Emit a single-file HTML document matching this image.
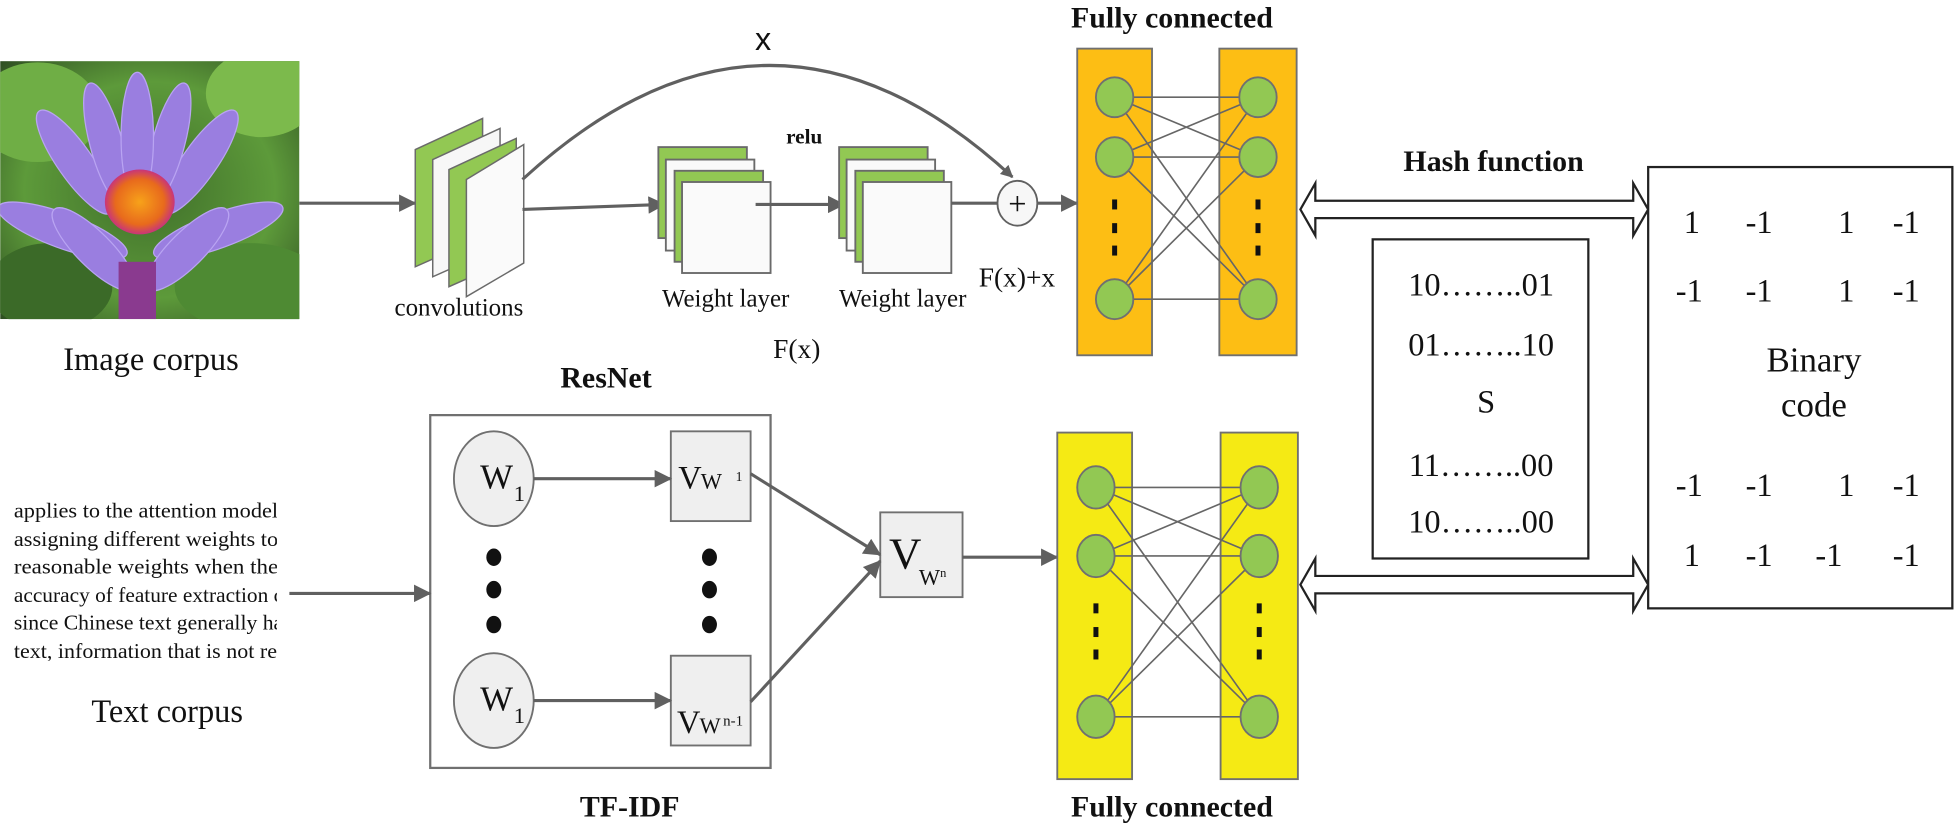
<!DOCTYPE html>
<html><head><meta charset="utf-8"><style>
html,body{margin:0;padding:0;background:#fff;}
svg{display:block;}
text{font-family:"Liberation Serif",serif;fill:#111;}
.b{font-weight:bold;}
</style></head><body>
<svg width="1955" height="829" viewBox="0 0 1568 665" xmlns="http://www.w3.org/2000/svg">
<defs>
<marker id="ah" markerWidth="10" markerHeight="10" refX="9" refY="5" orient="auto" markerUnits="userSpaceOnUse" viewBox="0 0 10 10">
<path d="M0,0 L10,5 L0,10 z" fill="#606060"/></marker>
<marker id="ahb" markerWidth="14" markerHeight="14" refX="13" refY="7" orient="auto" markerUnits="userSpaceOnUse" viewBox="0 0 14 14">
<path d="M0,0 L14,7 L0,14 z" fill="#606060"/></marker>
<radialGradient id="bg" cx="0.5" cy="0.5" r="0.7"><stop offset="0" stop-color="#3f6e2a"/><stop offset="0.6" stop-color="#5d9a3a"/><stop offset="1" stop-color="#2f4f22"/></radialGradient>
<radialGradient id="ctr" cx="0.5" cy="0.5" r="0.5"><stop offset="0" stop-color="#f7a21a"/><stop offset="0.7" stop-color="#e86a1c"/><stop offset="1" stop-color="#c8357a"/></radialGradient>
<clipPath id="imgc"><rect x="0" y="49" width="240" height="207"/></clipPath>
<clipPath id="txtc"><rect x="0" y="390" width="222" height="140"/></clipPath>
</defs>

<g clip-path="url(#imgc)">
<rect x="0" y="49" width="240" height="207" fill="url(#bg)"/>
<ellipse cx="30" cy="90" rx="50" ry="40" fill="#6fae45"/>
<ellipse cx="210" cy="75" rx="45" ry="35" fill="#7cba4c"/>
<ellipse cx="200" cy="230" rx="60" ry="35" fill="#4e8a33"/>
<ellipse cx="40" cy="230" rx="50" ry="35" fill="#3b6a28"/>
<g fill="#9a7ee0" stroke="#b9a4f2" stroke-width="1">
<ellipse cx="60" cy="130" rx="14" ry="50" transform="rotate(-35 60 130)"/>
<ellipse cx="160" cy="130" rx="14" ry="50" transform="rotate(35 160 130)"/>
<ellipse cx="85" cy="115" rx="13" ry="50" transform="rotate(-15 85 115)"/>
<ellipse cx="135" cy="115" rx="13" ry="50" transform="rotate(15 135 115)"/>
<ellipse cx="110" cy="110" rx="13" ry="52"/>
<ellipse cx="50" cy="185" rx="14" ry="55" transform="rotate(-70 50 185)"/>
<ellipse cx="175" cy="185" rx="14" ry="55" transform="rotate(70 175 185)"/>
<ellipse cx="75" cy="200" rx="14" ry="45" transform="rotate(-45 75 200)"/>
<ellipse cx="150" cy="200" rx="14" ry="45" transform="rotate(45 150 200)"/>
</g>
<ellipse cx="112" cy="162" rx="28" ry="26" fill="url(#ctr)"/>
<rect x="95" y="210" width="30" height="46" fill="#8a3a8f"/>
</g>
<text x="121" y="297" font-size="26" text-anchor="middle">Image corpus</text>

<line x1="240" y1="163" x2="333" y2="163" stroke="#606060" stroke-width="2.5" marker-end="url(#ahb)"/>

<g stroke="#6a6a6a" stroke-width="1.2">
<path d="M333,120 L387,95 L387,190 L333,214 z" fill="#92c853"/>
<path d="M347,128 L401,103 L401,198 L347,222 z" fill="#f7f7f7"/>
<path d="M360,136 L414,111 L414,206 L360,230 z" fill="#92c853"/>
<path d="M374,144 L420,116 L420,211 L374,238 z" fill="#fafafa"/>
</g>
<text x="368" y="253" font-size="20" text-anchor="middle">convolutions</text>

<path d="M419,144 Q617,-38 812,142" fill="none" stroke="#606060" stroke-width="2.5" marker-end="url(#ah)"/>
<text x="612" y="40" font-size="26" text-anchor="middle" style="font-family:'Liberation Sans',sans-serif">x</text>

<line x1="419" y1="168" x2="533" y2="164" stroke="#606060" stroke-width="2.5" marker-end="url(#ahb)"/>

<g stroke="#6a6a6a" stroke-width="1.5">
<rect x="528" y="118" width="71" height="73" fill="#92c853"/>
<rect x="534" y="128" width="71" height="73" fill="#fafafa"/>
<rect x="541" y="137" width="71" height="73" fill="#92c853"/>
<rect x="547" y="146" width="71" height="73" fill="#fafafa"/>
</g>
<text x="582" y="246" font-size="20" text-anchor="middle">Weight layer</text>
<text x="645" y="115" font-size="17" class="b" text-anchor="middle">relu</text>
<line x1="606" y1="164" x2="677" y2="164" stroke="#606060" stroke-width="2.5" marker-end="url(#ahb)"/>
<g stroke="#6a6a6a" stroke-width="1.5">
<rect x="673" y="118" width="71" height="73" fill="#92c853"/>
<rect x="679" y="128" width="71" height="73" fill="#fafafa"/>
<rect x="686" y="137" width="71" height="73" fill="#92c853"/>
<rect x="692" y="146" width="71" height="73" fill="#fafafa"/>
</g>
<text x="724" y="246" font-size="20" text-anchor="middle">Weight layer</text>
<line x1="763" y1="163" x2="800" y2="163" stroke="#606060" stroke-width="2.5"/>
<ellipse cx="816" cy="163" rx="16" ry="18" fill="#f7f7f7" stroke="#606060" stroke-width="1.5"/>
<text x="816" y="172" font-size="26" text-anchor="middle">+</text>
<line x1="832" y1="163" x2="864" y2="163" stroke="#606060" stroke-width="2.5" marker-end="url(#ahb)"/>
<text x="785" y="230" font-size="22">F(x)+x</text>
<text x="639" y="287" font-size="22" text-anchor="middle">F(x)</text>

<text x="940" y="22" font-size="24" class="b" text-anchor="middle">Fully connected</text>
<g stroke="#707070" stroke-width="1.5" fill="#fdbe14">
<rect x="864" y="39" width="60" height="246"/>
<rect x="978" y="39" width="62" height="246"/>
</g>
<g stroke="#666" stroke-width="1.3">
<line x1="894" y1="78" x2="1009" y2="78"/><line x1="894" y1="78" x2="1009" y2="126"/><line x1="894" y1="78" x2="1009" y2="240"/>
<line x1="894" y1="126" x2="1009" y2="78"/><line x1="894" y1="126" x2="1009" y2="126"/><line x1="894" y1="126" x2="1009" y2="240"/>
<line x1="894" y1="240" x2="1009" y2="78"/><line x1="894" y1="240" x2="1009" y2="126"/><line x1="894" y1="240" x2="1009" y2="240"/>
</g>
<g fill="#92c853" stroke="#707070" stroke-width="1.5">
<ellipse cx="894" cy="78" rx="15" ry="16"/><ellipse cx="894" cy="126" rx="15" ry="16"/><ellipse cx="894" cy="240" rx="15" ry="16"/>
<ellipse cx="1009" cy="78" rx="15" ry="16"/><ellipse cx="1009" cy="126" rx="15" ry="16"/><ellipse cx="1009" cy="240" rx="15" ry="16"/>
</g>
<g fill="#111">
<rect x="892" y="160" width="4" height="8"/><rect x="892" y="179" width="4" height="8"/><rect x="892" y="197" width="4" height="8"/>
<rect x="1007" y="160" width="4" height="8"/><rect x="1007" y="179" width="4" height="8"/><rect x="1007" y="197" width="4" height="8"/>
</g>

<text x="1198" y="137" font-size="24" class="b" text-anchor="middle">Hash function</text>
<path d="M1043,168 L1055,147 L1055,161 L1310,161 L1310,147 L1322,168 L1310,189 L1310,175 L1055,175 L1055,189 z" fill="#fff" stroke="#222" stroke-width="1.8"/>
<path d="M1043,469 L1055,448 L1055,462 L1310,462 L1310,448 L1322,469 L1310,490 L1310,476 L1055,476 L1055,490 z" fill="#fff" stroke="#222" stroke-width="1.8"/>

<rect x="1101" y="192" width="173" height="256" fill="#fff" stroke="#222" stroke-width="1.8"/>
<g font-size="26" text-anchor="middle">
<text x="1188" y="237">10……..01</text>
<text x="1188" y="285">01……..10</text>
<text x="1192" y="331">S</text>
<text x="1188" y="382">11……..00</text>
<text x="1188" y="427">10……..00</text>
</g>

<rect x="1322" y="134" width="244" height="354" fill="#fff" stroke="#222" stroke-width="1.8"/>
<g font-size="26" text-anchor="middle">
<text x="1357" y="187">1</text><text x="1411" y="187">-1</text><text x="1481" y="187">1</text><text x="1529" y="187">-1</text>
<text x="1355" y="242">-1</text><text x="1411" y="242">-1</text><text x="1481" y="242">1</text><text x="1529" y="242">-1</text>
<text x="1455" y="298" font-size="28">Binary</text>
<text x="1455" y="334" font-size="28">code</text>
<text x="1355" y="398">-1</text><text x="1411" y="398">-1</text><text x="1481" y="398">1</text><text x="1529" y="398">-1</text>
<text x="1357" y="454">1</text><text x="1411" y="454">-1</text><text x="1467" y="454">-1</text><text x="1529" y="454">-1</text>
</g>

<text x="486" y="311" font-size="24" class="b" text-anchor="middle">ResNet</text>
<rect x="345" y="333" width="273" height="283" fill="#fff" stroke="#707070" stroke-width="1.8"/>
<g fill="#efefef" stroke="#707070" stroke-width="1.5">
<ellipse cx="396" cy="384" rx="32" ry="38"/>
<ellipse cx="396" cy="562" rx="32" ry="38"/>
<rect x="538" y="346" width="64" height="72"/>
<rect x="538" y="526" width="64" height="72"/>
<rect x="706" y="411" width="66" height="68"/>
</g>
<text x="385" y="392" font-size="28">W</text><text x="412" y="402" font-size="18">1</text>
<text x="385" y="570" font-size="28">W</text><text x="412" y="580" font-size="18">1</text>
<text x="544" y="392" font-size="26">V</text><text x="562" y="392" font-size="18">W</text><text x="590" y="386" font-size="11">1</text>
<text x="543" y="588" font-size="26">V</text><text x="561" y="588" font-size="18">W</text><text x="580" y="582" font-size="12">n-1</text>
<text x="713" y="456" font-size="36">V</text><text x="737" y="469" font-size="18">W</text><text x="754" y="463" font-size="10">n</text>
<line x1="428" y1="384" x2="538" y2="384" stroke="#606060" stroke-width="2.5" marker-end="url(#ahb)"/>
<line x1="428" y1="562" x2="538" y2="562" stroke="#606060" stroke-width="2.5" marker-end="url(#ahb)"/>
<g fill="#111">
<ellipse cx="396" cy="447" rx="6" ry="7"/><ellipse cx="396" cy="473" rx="6" ry="7"/><ellipse cx="396" cy="501" rx="6" ry="7"/>
<ellipse cx="569" cy="447" rx="6" ry="7"/><ellipse cx="569" cy="473" rx="6" ry="7"/><ellipse cx="569" cy="501" rx="6" ry="7"/>
</g>
<line x1="602" y1="380" x2="706" y2="445" stroke="#606060" stroke-width="2.5" marker-end="url(#ahb)"/>
<line x1="602" y1="563" x2="706" y2="450" stroke="#606060" stroke-width="2.5" marker-end="url(#ahb)"/>
<line x1="772" y1="447" x2="848" y2="447" stroke="#606060" stroke-width="2.5" marker-end="url(#ahb)"/>
<text x="505" y="655" font-size="24" class="b" text-anchor="middle">TF-IDF</text>

<g clip-path="url(#txtc)" font-size="17">
<text x="11" y="415" textLength="212" lengthAdjust="spacingAndGlyphs">applies to the attention model</text>
<text x="11" y="438" textLength="212" lengthAdjust="spacingAndGlyphs">assigning different weights to</text>
<text x="11" y="460" textLength="212" lengthAdjust="spacingAndGlyphs">reasonable weights when the</text>
<text x="11" y="483" textLength="216" lengthAdjust="spacingAndGlyphs">accuracy of feature extraction c</text>
<text x="11" y="505" textLength="216" lengthAdjust="spacingAndGlyphs">since Chinese text generally ha</text>
<text x="11" y="528" textLength="216" lengthAdjust="spacingAndGlyphs">text, information that is not rel</text>
</g>
<line x1="232" y1="476" x2="345" y2="476" stroke="#606060" stroke-width="2.5" marker-end="url(#ahb)"/>
<text x="134" y="579" font-size="26" text-anchor="middle">Text corpus</text>

<g stroke="#707070" stroke-width="1.5" fill="#f5ea14">
<rect x="848" y="347" width="60" height="278"/>
<rect x="979" y="347" width="62" height="278"/>
</g>
<g stroke="#666" stroke-width="1.3">
<line x1="879" y1="391" x2="1010" y2="391"/><line x1="879" y1="391" x2="1010" y2="446"/><line x1="879" y1="391" x2="1010" y2="575"/>
<line x1="879" y1="446" x2="1010" y2="391"/><line x1="879" y1="446" x2="1010" y2="446"/><line x1="879" y1="446" x2="1010" y2="575"/>
<line x1="879" y1="575" x2="1010" y2="391"/><line x1="879" y1="575" x2="1010" y2="446"/><line x1="879" y1="575" x2="1010" y2="575"/>
</g>
<g fill="#92c853" stroke="#707070" stroke-width="1.5">
<ellipse cx="879" cy="391" rx="15" ry="17"/><ellipse cx="879" cy="446" rx="15" ry="17"/><ellipse cx="879" cy="575" rx="15" ry="17"/>
<ellipse cx="1010" cy="391" rx="15" ry="17"/><ellipse cx="1010" cy="446" rx="15" ry="17"/><ellipse cx="1010" cy="575" rx="15" ry="17"/>
</g>
<g fill="#111">
<rect x="877" y="484" width="4" height="8"/><rect x="877" y="503" width="4" height="8"/><rect x="877" y="521" width="4" height="8"/>
<rect x="1008" y="484" width="4" height="8"/><rect x="1008" y="503" width="4" height="8"/><rect x="1008" y="521" width="4" height="8"/>
</g>
<text x="940" y="655" font-size="24" class="b" text-anchor="middle">Fully connected</text>
</svg>
</body></html>
